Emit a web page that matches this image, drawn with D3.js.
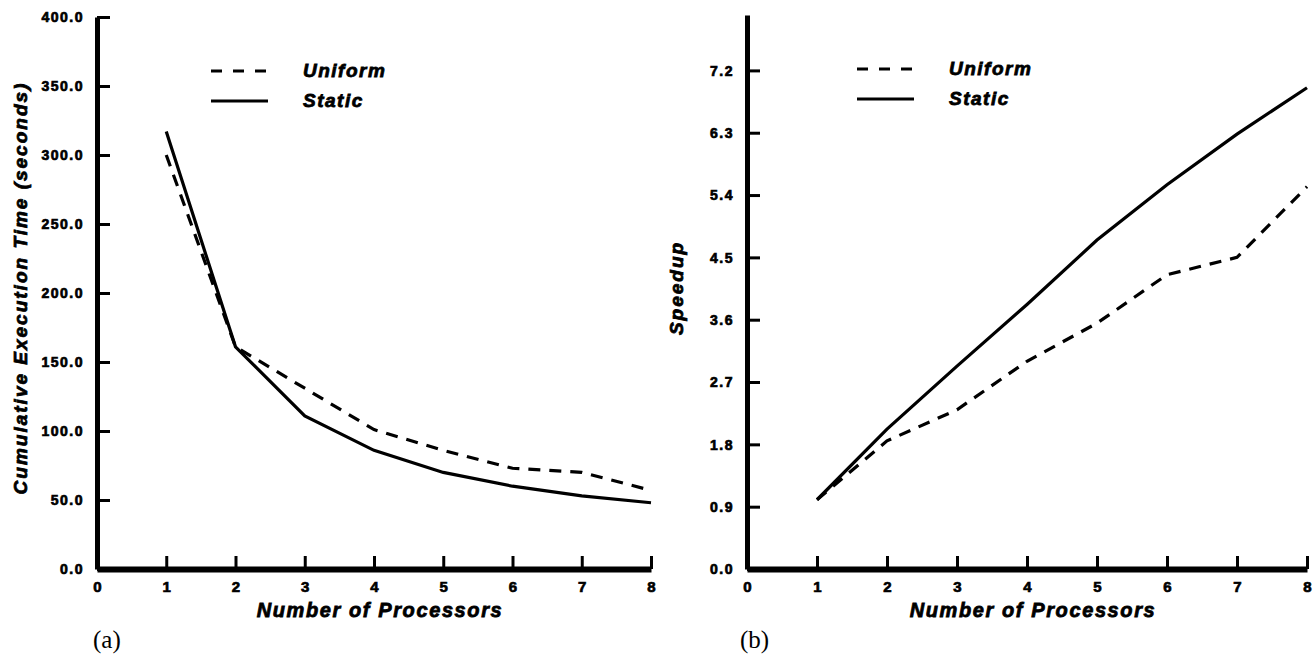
<!DOCTYPE html>
<html>
<head>
<meta charset="utf-8">
<script src="https://cdn.jsdelivr.net/npm/d3@7"></script>
<style>
  body { margin: 0; background: white; }
  svg { display: block; }
  .tick text { font-family: "Liberation Sans", Arial, sans-serif; font-weight: bold; fill: black; stroke: black; stroke-width: 0.7px; }
  .title { font-family: "Liberation Sans", Arial, sans-serif; font-weight: bold; font-style: italic; fill: black; stroke: black; stroke-width: 0.8px; }
  .panel { font-family: "Liberation Serif", "Times New Roman", serif; fill: black; }
</style>
</head>
<body>
<div id="chart"></div>
<script>
// data
const procs = [1, 2, 3, 4, 5, 6, 7, 8];
const timeUniform = [300, 161, 131, 101, 86, 73, 70, 57];
const timeStatic = [317, 161, 111, 86, 70, 60, 53, 48];
const speedUniform = [1.0, 1.85, 2.3, 3.0, 3.55, 4.25, 4.5, 5.52];
const speedStatic = [1.0, 2.02, 2.93, 3.82, 4.75, 5.55, 6.28, 6.95];

const xTicks = [0, 1, 2, 3, 4, 5, 6, 7, 8];
const timeTicks = [0, 50, 100, 150, 200, 250, 300, 350, 400];
const speedTicks = [0, 0.9, 1.8, 2.7, 3.6, 4.5, 5.4, 6.3, 7.2];
const legendNames = ["Uniform", "Static"];

const w = 1314;
const h = 655;

let svg = d3.select("#chart").append("svg")
    .attr("width", w)
    .attr("height", h);

function drawPanel(opt) {
  const x = d3.scaleLinear().domain([0, 8]).range([opt.left, opt.right]);
  const y = d3.scaleLinear().domain(opt.yDomain).range([opt.bottom, opt.top]);
  const g = svg.append("g");

  // y axis, ticks point inward
  const yAxis = g.append("g")
      .attr("transform", "translate(" + opt.left + ",0)")
      .call(d3.axisLeft(y).tickValues(opt.yTicks).tickSize(-13).tickSizeOuter(0)
        .tickPadding(13).tickFormat(d3.format(".1f")));
  yAxis.select(".domain").attr("stroke", "black").attr("stroke-width", 5);
  yAxis.selectAll(".tick line").attr("stroke", "black").attr("stroke-width", 3);
  yAxis.selectAll(".tick text").style("font-size", "14px").style("letter-spacing", "1.5px").attr("dy", "0.35em");

  // x axis, ticks point up
  const xAxis = g.append("g")
      .attr("transform", "translate(0," + opt.bottom + ")")
      .call(d3.axisBottom(x).tickValues(xTicks).tickSize(-13).tickSizeOuter(0)
        .tickPadding(12).tickFormat(d3.format("d")));
  xAxis.select(".domain").attr("stroke", "black").attr("stroke-width", 6);
  xAxis.selectAll(".tick line").attr("stroke", "black").attr("stroke-width", 3);
  xAxis.selectAll(".tick text").style("font-size", "15px");

  const line = d3.line().x((d, i) => x(procs[i])).y(d => y(d));

  g.append("path")
    .datum(opt.uniform)
    .attr("d", line)
    .attr("fill", "none")
    .attr("stroke", "black")
    .attr("stroke-width", 3.2)
    .attr("stroke-dasharray", "12,9");

  g.append("path")
    .datum(opt.stat)
    .attr("d", line)
    .attr("fill", "none")
    .attr("stroke", "black")
    .attr("stroke-width", 3.2);

  // legend
  legendNames.forEach(function(name, i) {
    const ly = opt.legendY + i * 30;
    g.append("line")
      .attr("x1", opt.legendX).attr("x2", opt.legendX + 57)
      .attr("y1", ly).attr("y2", ly)
      .attr("stroke", "black").attr("stroke-width", 3.2)
      .attr("stroke-dasharray", i == 0 ? "11,11" : null);
    g.append("text")
      .attr("class", "title")
      .attr("x", opt.legendX + 92)
      .attr("y", ly + 6)
      .style("font-size", "19px")
      .style("letter-spacing", "1.5px")
      .text(name);
  });

  // axis titles
  g.append("text")
    .attr("class", "title")
    .attr("x", (opt.left + opt.right) / 2 + 6)
    .attr("y", 617)
    .attr("text-anchor", "middle")
    .style("font-size", "20px")
    .style("letter-spacing", "1.6px")
    .text("Number of Processors");

  g.append("text")
    .attr("class", "title")
    .attr("transform", "translate(" + opt.yTitleX + "," + opt.yTitleY + ") rotate(-90)")
    .attr("text-anchor", "middle")
    .style("font-size", "19px")
    .style("letter-spacing", "2px")
    .text(opt.yTitle);

  g.append("text")
    .attr("class", "panel")
    .attr("x", opt.panelX)
    .attr("y", 648)
    .style("font-size", "25px")
    .text(opt.panel);
}

drawPanel({
  left: 97, right: 651, top: 17, bottom: 569,
  yDomain: [0, 400], yTicks: timeTicks,
  uniform: timeUniform, stat: timeStatic,
  legendX: 211, legendY: 71,
  yTitle: "Cumulative Execution Time (seconds)", yTitleX: 27, yTitleY: 288,
  panel: "(a)", panelX: 93
});

drawPanel({
  left: 747, right: 1307, top: 15, bottom: 569,
  yDomain: [0, 8], yTicks: speedTicks,
  uniform: speedUniform, stat: speedStatic,
  legendX: 857, legendY: 69,
  yTitle: "Speedup", yTitleX: 683, yTitleY: 288,
  panel: "(b)", panelX: 740
});
</script>
</body>
</html>
